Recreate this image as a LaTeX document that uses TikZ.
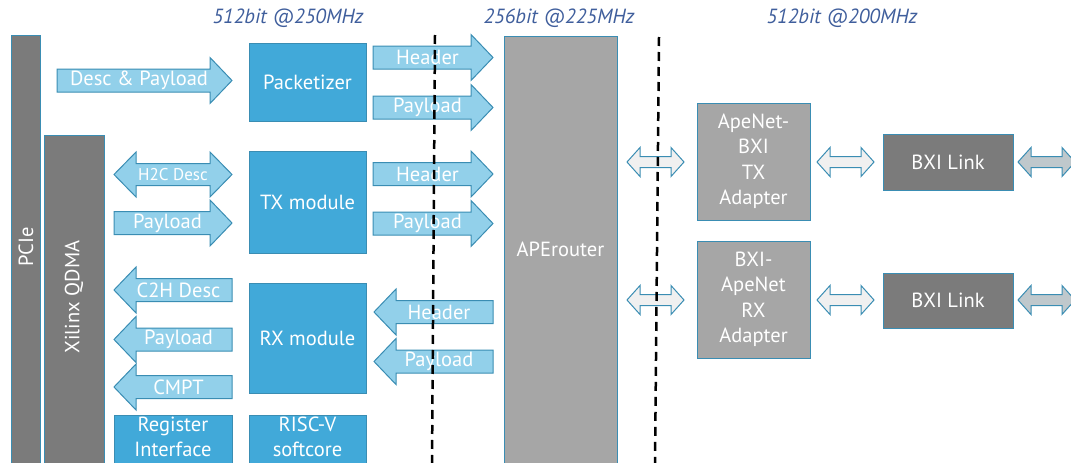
\documentclass[tikz,border=0pt]{standalone}
\usepackage{fontspec}
\setmainfont{PT Sans}
\definecolor{blueb}{HTML}{41A9D9}
\definecolor{lblue}{HTML}{92D0EA}
\definecolor{bordc}{HTML}{3A8DB3}
\definecolor{dgrey}{HTML}{7B7B7B}
\definecolor{mgrey}{HTML}{A6A6A6}
\definecolor{titlec}{HTML}{3F5E9C}
\definecolor{wfill}{HTML}{F0F0F0}
\definecolor{gfill}{HTML}{BFC8CC}
\newcommand\boxnode[7]{%
  \node[#6, minimum width={#4-#2}, minimum height={#5-#3}] (#1) at ({(#2+#4)/2},{(#3+#5)/2}) {#7};}
% right block arrow: name, x1, x2 (tip), yc, label, style
\newcommand\rarrow[6]{%
  \draw[#6] (#2,#4-11.5) -- (#3-22,#4-11.5) -- (#3-22,#4-23) -- (#3,#4) -- (#3-22,#4+23) -- (#3-22,#4+11.5) -- (#2,#4+11.5) -- cycle;
  \node[arrowlabel] (#1) at ({(#2+#3-11)/2},#4) {#5};}
% left block arrow: name, x1 (tip), x2, yc, label, style
\newcommand\larrow[6]{%
  \draw[#6] (#3,#4-11.5) -- (#2+22,#4-11.5) -- (#2+22,#4-23) -- (#2,#4) -- (#2+22,#4+23) -- (#2+22,#4+11.5) -- (#3,#4+11.5) -- cycle;
  \node[arrowlabel] (#1) at ({(#2+11+#3)/2},#4) {#5};}
% double block arrow: x1, x2, yc, shaft half, head half, head length, style
\newcommand\darrow[7]{%
  \draw[#7] (#1,#3) -- (#1+#6,#3-#5) -- (#1+#6,#3-#4) -- (#2-#6,#3-#4) -- (#2-#6,#3-#5) -- (#2,#3) -- (#2-#6,#3+#5) -- (#2-#6,#3+#4) -- (#1+#6,#3+#4) -- (#1+#6,#3+#5) -- cycle;}
\begin{document}
\begin{tikzpicture}[x=1pt,y=-1pt,
  box/.style={draw=bordc, line width=1pt, inner sep=0pt, outer sep=0pt, text=white, font=\fontsize{20.5}{25.5}\selectfont, align=center},
  bluebox/.style={box, fill=blueb},
  dbox/.style={box, fill=dgrey},
  mbox/.style={box, fill=mgrey},
  labeltext/.style={text=white, font=\fontsize{20.5}{25.5}\selectfont, align=center, inner sep=0pt},
  arrowlabel/.style={text=white, font=\fontsize{20.5}{22}\selectfont, inner sep=0pt},
  blockarrow/.style={draw=bordc, line width=1pt, fill=lblue, line join=miter},
  warrow/.style={draw=bordc, line width=1pt, fill=wfill},
  garrow/.style={draw=bordc, line width=1pt, fill=gfill},
  title/.style={text=titlec, font=\fontsize{20.5}{22}\selectfont\itshape, inner sep=0pt},
  sep/.style={draw=black, line width=2.5pt, dash pattern=on 9pt off 6pt}
]
\useasboundingbox (0,0) rectangle (1071,463);
\clip (0,0) rectangle (1071,463);

% titles
\node[title] (t1) at (288,18) {512bit @250MHz};
\node[title] (t2) at (559,18) {256bit @225MHz};
\node[title] (t3) at (842,18) {512bit @200MHz};

% left grey bars
\boxnode{pcie}{11}{35}{40}{475}{dbox}{}
\node[labeltext, rotate=90] (pcielbl) at (26,247) {PCIe};
\boxnode{qdma}{44}{135}{104}{475}{dbox}{}
\node[labeltext, rotate=90] (qdmalbl) at (74,297) {Xilinx QDMA};

% blue modules
\boxnode{pack}{249}{43}{366}{121}{bluebox}{Packetizer}
\boxnode{tx}{249}{151}{366}{253}{bluebox}{TX module}
\boxnode{rx}{249}{283}{366}{393}{bluebox}{RX module}
\boxnode{reg}{114}{415}{232}{475}{bluebox}{}
\node[labeltext] (reglbl) at (173,437) {Register\\Interface};
\boxnode{risc}{249}{415}{366}{475}{bluebox}{}
\node[labeltext] (risclbl) at (307.5,437) {RISC-V\\softcore};

% router and adapters
\boxnode{aper}{504}{36}{617}{475}{mbox}{}
\node[labeltext] (aperlbl) at (560.5,249) {APErouter};
\boxnode{txad}{697}{103}{810}{220}{mbox}{ApeNet-\\BXI\\TX\\Adapter}
\boxnode{rxad}{697}{241}{810}{358}{mbox}{BXI-\\ApeNet\\RX\\Adapter}
\boxnode{bxi1}{883}{134}{1013}{190}{dbox}{BXI Link}
\boxnode{bxi2}{883}{273}{1013}{328}{dbox}{BXI Link}

% QDMA-side arrows
\rarrow{descpay}{57}{232}{80.5}{Desc \& Payload}{blockarrow}
\darrow{114}{232}{174.5}{11}{22.5}{22}{blockarrow}
\node[arrowlabel, font=\fontsize{17}{18}\selectfont] (h2c) at (173,174.5) {H2C Desc};
\rarrow{txpay}{114}{232}{223}{Payload}{blockarrow}
\larrow{c2h}{114}{232}{290}{C2H Desc}{blockarrow}
\larrow{rxpay}{114}{232}{339.5}{Payload}{blockarrow}
\larrow{cmpt}{114}{232}{387}{CMPT}{blockarrow}

% router-side arrows
\rarrow{phdr}{373}{493}{57.5}{Header}{blockarrow}
\rarrow{ppay}{373}{493}{107.5}{Payload}{blockarrow}
\rarrow{thdr}{373}{493}{174}{Header}{blockarrow}
\rarrow{tpay}{373}{493}{223.5}{Payload}{blockarrow}
\larrow{rhdr}{374}{493}{312}{Header}{blockarrow}
\larrow{rpay}{374}{493}{361.5}{Payload}{blockarrow}

% white and grey double arrows
\darrow{627}{684}{162}{5.5}{14.5}{13}{warrow}
\darrow{627}{684}{300}{5.5}{14.5}{13}{warrow}
\darrow{817}{874}{162}{5.5}{14.5}{13}{warrow}
\darrow{817}{874}{300}{5.5}{14.5}{13}{warrow}
\darrow{1018}{1075}{162}{5.5}{14.5}{13}{garrow}
\darrow{1018}{1075}{300}{5.5}{14.5}{13}{garrow}

% clock-domain separators
\coordinate (d1t) at (435,35);
\coordinate (d1b) at (432,466);
\coordinate (d2t) at (659,37);
\coordinate (d2b) at (655,466);
\draw[sep] (d1t) -- (d1b);
\draw[sep] (d2t) -- (d2b);
\end{tikzpicture}
\end{document}
